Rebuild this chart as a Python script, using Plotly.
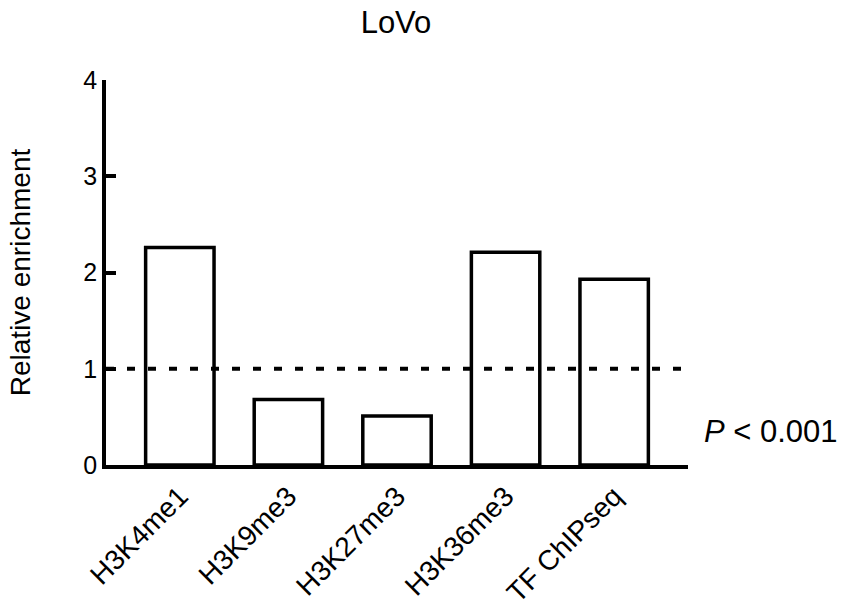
import plotly.graph_objects as go

categories = ["H3K4me1", "H3K9me3", "H3K27me3", "H3K36me3", "TF ChIPseq"]
values = [2.26, 0.68, 0.51, 2.21, 1.93]
y_ticks = [0, 1, 2, 3, 4]
reference_level = 1.0
title_text = "LoVo"
y_title = "Relative enrichment"
p_label = "<i>P</i> < 0.001"

FONT = "Liberation Sans, Arial, sans-serif"

fig = go.Figure()
fig.add_trace(go.Bar(
    x=list(range(len(categories))),
    y=values,
    marker=dict(color="white", line=dict(color="black", width=3.5)),
    width=0.63,
    showlegend=False,
))

fig.add_shape(type="line", xref="paper", yref="y", x0=0, x1=1,
              y0=reference_level, y1=reference_level,
              line=dict(color="black", width=4, dash="8px,13px"))

fig.add_annotation(text=p_label, xref="paper", yref="y", x=1.024, y=0.35,
                   xanchor="left", yanchor="middle", showarrow=False,
                   font=dict(family=FONT, size=31, color="black"))

fig.update_layout(
    width=842, height=612,
    margin=dict(l=106, r=154, t=80, b=147, autoexpand=False),
    paper_bgcolor="white", plot_bgcolor="white",
    title=dict(text=title_text, x=396 / 842, xanchor="center", xref="container",
               y=1 - 22 / 612, yanchor="middle", yref="container",
               font=dict(family=FONT, size=31, color="black")),
    font=dict(family=FONT, color="black"),
)

fig.update_xaxes(
    range=[-0.68, 4.68], automargin=False,
    tickmode="array", tickvals=list(range(len(categories))), ticktext=categories,
    tickangle=-45, ticks="", showgrid=False, zeroline=False,
    showline=True, linecolor="black", linewidth=3.5,
    tickfont=dict(family=FONT, size=28, color="black"),
)
fig.update_yaxes(
    range=[0, 4], automargin=False, tickvals=y_ticks, ticks="inside", ticklen=10, tickwidth=3.5,
    tickcolor="black", showgrid=False, zeroline=False,
    showline=True, linecolor="black", linewidth=3.5,
    tickfont=dict(family=FONT, size=25, color="black"),
    title=dict(text=y_title, font=dict(family=FONT, size=28, color="black"), standoff=46),
)

fig.write_html("out.html")
